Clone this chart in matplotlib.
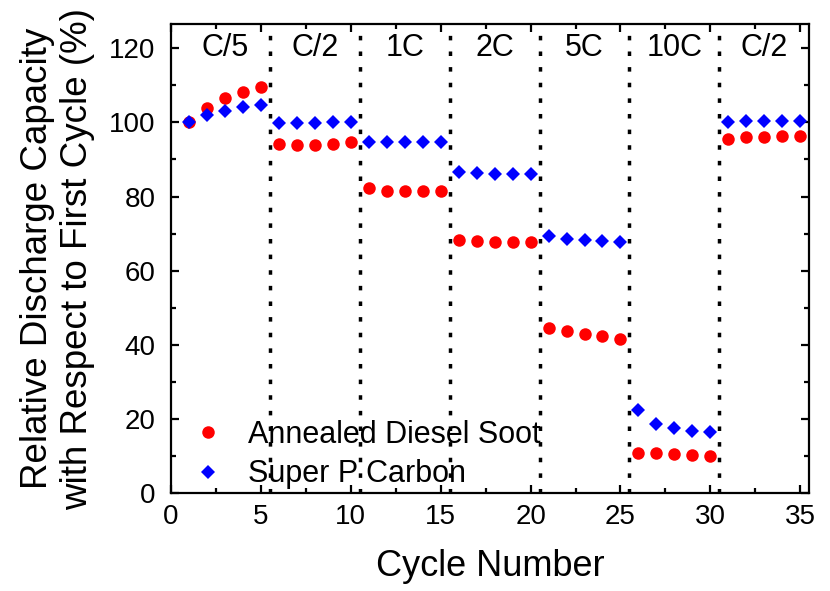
import matplotlib
matplotlib.use("Agg")
import matplotlib.pyplot as plt
from matplotlib.ticker import MultipleLocator

plt.rcParams['font.family'] = ['Liberation Sans', 'DejaVu Sans']

ciclos = list(range(1, 36))
fuligem = [100, 104, 106.5, 108.2, 109.5,
           94.1, 93.8, 94.0, 94.3, 94.8,
           82.3, 81.6, 81.5, 81.5, 81.5,
           68.3, 68.0, 67.8, 67.7, 67.8,
           44.6, 43.6, 42.8, 42.3, 41.6,
           10.8, 10.7, 10.4, 10.2, 10.0,
           95.5, 96.0, 96.0, 96.3, 96.4]
super_p = [100, 102.0, 103.2, 104.2, 104.8,
           99.8, 99.8, 99.9, 100.0, 100.2,
           94.8, 94.7, 94.7, 94.6, 94.6,
           86.5, 86.3, 86.2, 86.2, 86.2,
           69.3, 68.4, 68.2, 67.9, 67.6,
           22.3, 18.7, 17.5, 16.8, 16.5,
           100.0, 100.5, 100.4, 100.4, 100.4]
taxas = ["C/5", "C/2", "1C", "2C", "5C", "10C", "C/2"]
divisoes = [5.5, 10.5, 15.5, 20.5, 25.5, 30.5]

fig = plt.figure(figsize=(8.3, 5.91), dpi=100)
ax = fig.add_axes([0.206, 0.166, 0.769, 0.793])

for d in divisoes:
    ax.axvline(d, color='black', linestyle=(0, (1.3, 3.2)), linewidth=2.5, zorder=1)

ax.plot(ciclos, fuligem, 'o', color='#ff0000', markersize=9, markeredgewidth=0,
        label='Annealed Diesel Soot', zorder=3)
ax.plot(ciclos, super_p, 'D', color='#0000ff', markersize=7.2, markeredgewidth=0,
        label='Super P Carbon', zorder=3)

for i, t in enumerate(taxas):
    ax.text(3 + 5 * i, 120, t, ha='center', va='center', fontsize=22)

ax.set_xlim(0, 35.5)
ax.set_ylim(0, 126.5)
ax.xaxis.set_major_locator(MultipleLocator(5))
ax.xaxis.set_minor_locator(MultipleLocator(2.5))
ax.yaxis.set_major_locator(MultipleLocator(20))
ax.yaxis.set_minor_locator(MultipleLocator(10))
ax.tick_params(which='both', direction='in', top=True, right=True, width=1.6,
               labelsize=20)
ax.tick_params(which='major', length=6)
ax.tick_params(axis='x', which='major', pad=8)
ax.tick_params(axis='y', which='major', pad=11)
ax.tick_params(which='minor', length=3.5)
for s in ax.spines.values():
    s.set_linewidth(1.6)

ax.set_xlabel('Cycle Number', fontsize=26, labelpad=14)
ax.set_ylabel('Relative Discharge Capacity\nwith Respect to First Cycle (%)',
              fontsize=26.5, labelpad=10, linespacing=1.2)

ax.legend(loc='lower left', bbox_to_anchor=(0.008, -0.012), frameon=False,
          fontsize=22, handletextpad=0.55, borderaxespad=0.0,
          labelspacing=0.3, handlelength=1.5, borderpad=0.3)

fig.savefig('out.png', dpi=100)
